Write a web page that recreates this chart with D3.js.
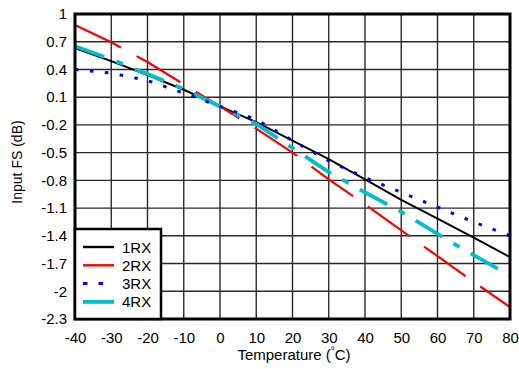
<!DOCTYPE html>
<html>
<head>
<meta charset="utf-8">
<script src="https://cdn.jsdelivr.net/npm/d3@7"></script>
<style>
  html, body { margin: 0; padding: 0; background: #fff; }
  svg { display: block; font-family: "Liberation Sans", Arial, sans-serif; }
</style>
</head>
<body>
<svg id="chart" width="519" height="369"></svg>
<script>
// ---- data ----
const temperature = [-40, -30, -20, -10, 0, 10, 20, 30, 40, 50, 60, 70, 80];
const rx1 = [0.63, 0.49, 0.34, 0.18, 0.0, -0.17, -0.37, -0.57, -0.79, -1.01, -1.215, -1.42, -1.63];
const rx2 = [0.88, 0.695, 0.48, 0.24, 0.0, -0.24, -0.50, -0.79, -1.06, -1.34, -1.62, -1.90, -2.17];
const rx3 = [0.40, 0.36, 0.28, 0.145, 0.0, -0.14, -0.37, -0.59, -0.77, -0.93, -1.09, -1.25, -1.40];
const rx4 = [0.65, 0.51, 0.35, 0.19, 0.0, -0.19, -0.45, -0.71, -0.93, -1.14, -1.38, -1.61, -1.83];
const xTicks = [-40, -30, -20, -10, 0, 10, 20, 30, 40, 50, 60, 70, 80];
const yTicks = [1, 0.7, 0.4, 0.1, -0.2, -0.5, -0.8, -1.1, -1.4, -1.7, -2, -2.3];
const seriesNames = ["1RX", "2RX", "3RX", "4RX"];

const svg = d3.select("#chart");
const pL = 75, pR = 510, pT = 14, pB = 319;

const x = d3.scaleLinear().domain([-40, 80]).range([pL, pR]);
const y = d3.scaleLinear().domain([-2.3, 1]).range([pB, pT]);

// grid
const grid = svg.append("g");
grid.selectAll("line.v").data(xTicks).enter().append("line")
  .attr("x1", d => x(d)).attr("x2", d => x(d))
  .attr("y1", pT).attr("y2", pB)
  .attr("stroke", "#2a2a2a").attr("stroke-width", 1.4);
grid.selectAll("line.h").data(yTicks).enter().append("line")
  .attr("y1", d => y(d)).attr("y2", d => y(d))
  .attr("x1", pL).attr("x2", pR)
  .attr("stroke", "#2a2a2a").attr("stroke-width", 1.4);

// axes (labels only)
const xAxis = d3.axisBottom(x).tickValues(xTicks).tickSize(0).tickPadding(13)
  .tickFormat(d => String(d));
const gx = svg.append("g").attr("transform", `translate(0,${pB})`).call(xAxis);
gx.select(".domain").remove();
gx.selectAll("text").attr("font-size", 15).attr("font-family", "Liberation Sans, Arial, sans-serif").attr("fill", "#000");

const yAxis = d3.axisLeft(y).tickValues(yTicks).tickSize(0).tickPadding(8)
  .tickFormat(d => String(d));
const gy = svg.append("g").attr("transform", `translate(${pL},0)`).call(yAxis);
gy.select(".domain").remove();
gy.selectAll("text").attr("font-size", 15).attr("font-family", "Liberation Sans, Arial, sans-serif").attr("fill", "#000");

// clip
svg.append("clipPath").attr("id", "clip").append("rect")
  .attr("x", pL).attr("y", pT).attr("width", pR - pL).attr("height", pB - pT);

const line = d3.line().x(d => x(d[0])).y(d => y(d[1]));
const styles = [
  { data: rx1, color: "#000000", width: 2, dash: null },
  { data: rx2, color: "#ff0000", width: 2.2, dash: "51,18" },
  { data: rx3, color: "#0000ff", width: 3, dash: "3.5,11.5" },
  { data: rx4, color: "#00bfc8", width: 3.8, dash: "31,13,7,13" }
];
const plot = svg.append("g").attr("clip-path", "url(#clip)");
[0, 1, 3, 2].forEach(i => {
  const s = styles[i];
  plot.append("path")
    .datum(temperature.map((t, j) => [t, s.data[j]]))
    .attr("d", line)
    .attr("fill", "none")
    .attr("stroke", s.color)
    .attr("stroke-width", s.width)
    .attr("stroke-dasharray", s.dash);
});

// border
svg.append("rect").attr("x", pL).attr("y", pT)
  .attr("width", pR - pL).attr("height", pB - pT)
  .attr("fill", "none").attr("stroke", "#000").attr("stroke-width", 3);

// legend
const lg = svg.append("g");
lg.append("rect").attr("x", pL).attr("y", 229).attr("width", 86).attr("height", pB - 229)
  .attr("fill", "#fff").attr("stroke", "#000").attr("stroke-width", 2.5);
seriesNames.forEach((name, i) => {
  const s = styles[i];
  const yy = 247 + i * 18.3;
  lg.append("line").attr("x1", 83).attr("x2", i === 2 ? 104 : 114).attr("y1", yy).attr("y2", yy)
    .attr("stroke", s.color).attr("stroke-width", i === 3 ? 3.8 : (i === 2 ? 3 : 2.4))
    .attr("stroke-dasharray", i === 2 ? "4.5,11" : null);
  lg.append("text").attr("x", 122).attr("y", yy + 5.5).attr("font-size", 15)
    .attr("fill", "#000").text(name);
});

// axis titles
const xt = svg.append("text").attr("x", 294).attr("y", 360)
  .attr("text-anchor", "middle").attr("font-size", 15).attr("fill", "#000");
xt.append("tspan").text("Temperature (");
xt.append("tspan").attr("font-size", 10).attr("dy", -6).text("°");
xt.append("tspan").attr("dy", 6).text("C)");

svg.append("text")
  .attr("transform", `translate(22,162) rotate(-90)`)
  .attr("text-anchor", "middle").attr("font-size", 14).attr("fill", "#000")
  .text("Input FS (dB)");
</script>
</body>
</html>
